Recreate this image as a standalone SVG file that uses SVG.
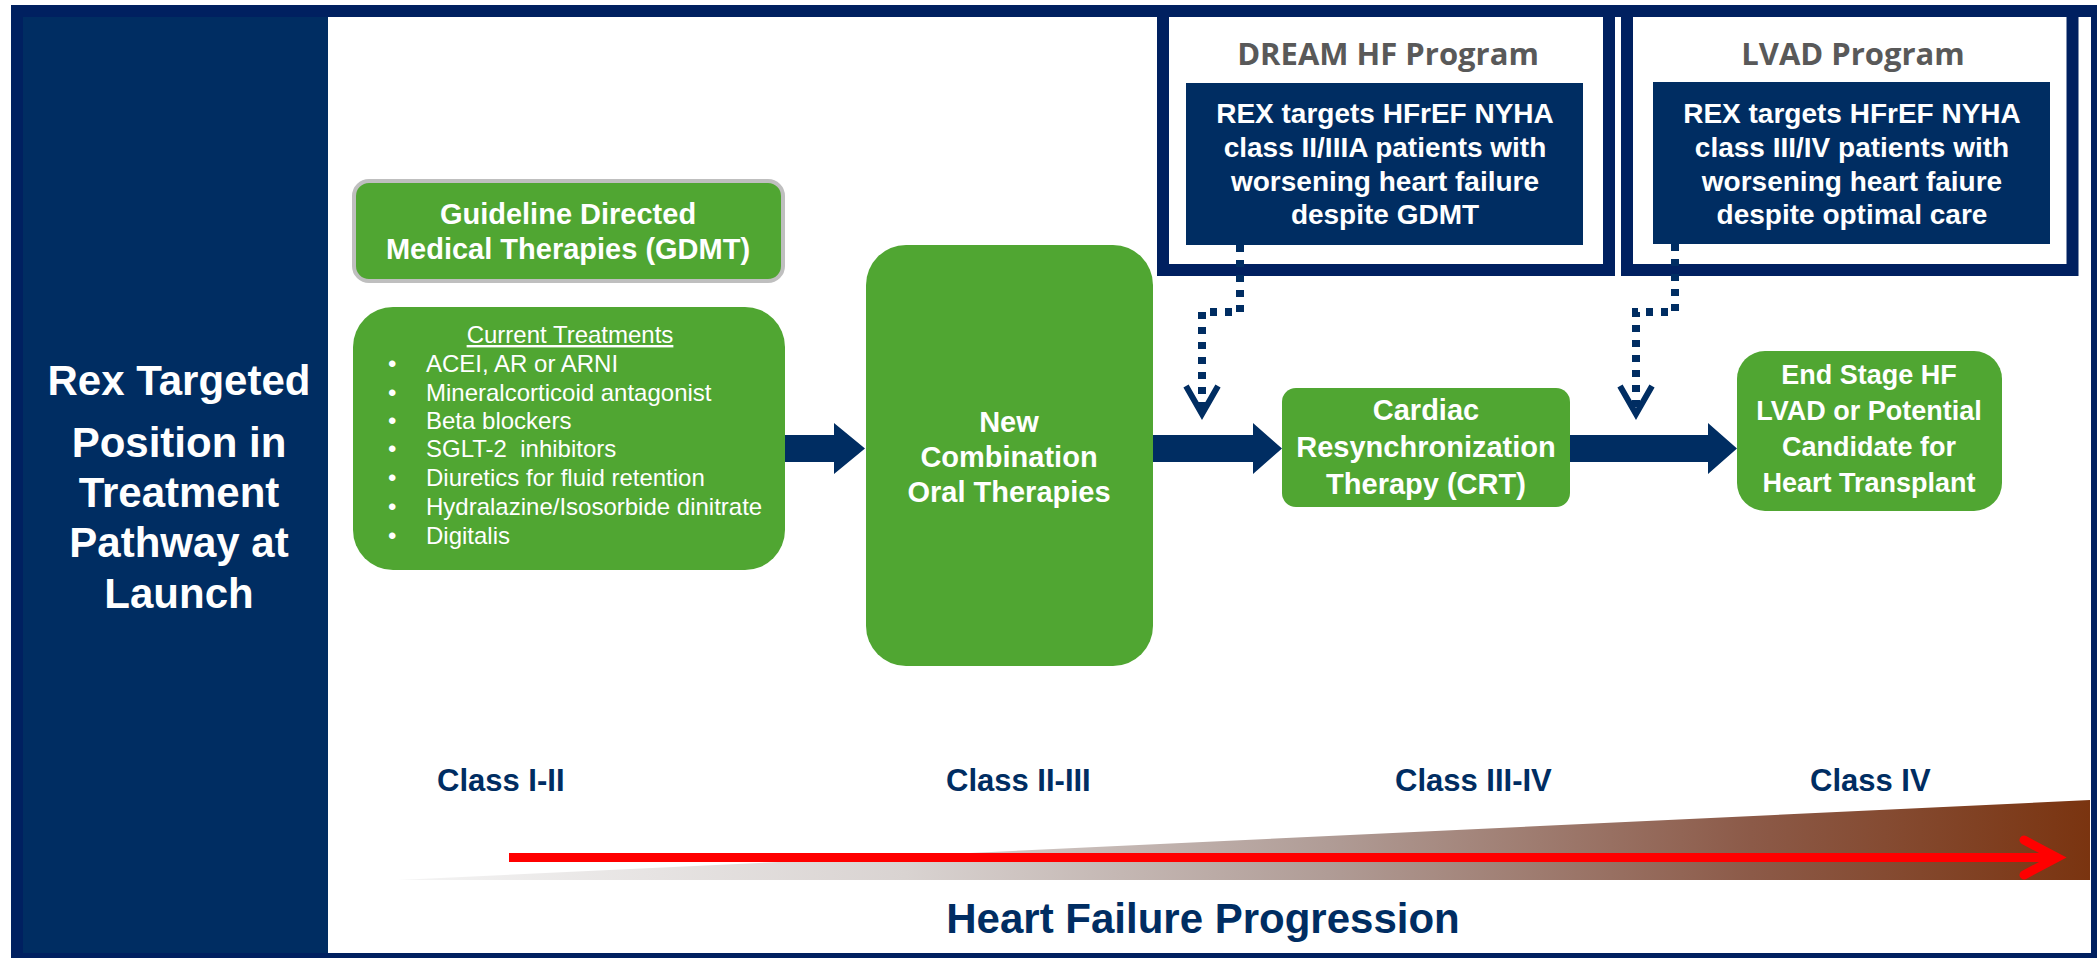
<svg xmlns="http://www.w3.org/2000/svg" width="2097" height="958" viewBox="0 0 2097 958">
<defs>
<style>
.g{fill:#50A632}
.w{fill:#FFFFFF;font-family:"Liberation Sans",Arial,sans-serif;font-weight:700;text-anchor:middle}
.wr{fill:#FFFFFF;font-family:"Liberation Sans",Arial,sans-serif;font-size:24px}
.nv{fill:#002D62;font-family:"Liberation Sans",Arial,sans-serif;font-weight:700}
.ttl{fill:#595959;font-family:"Open Sans","Liberation Sans",sans-serif;font-weight:700;font-size:31px;text-anchor:middle}
.frame{fill:none;stroke:#002060;stroke-width:12}
.blk{fill:#002D62}
.dot{fill:none;stroke:#002D62;stroke-width:8;stroke-dasharray:7 8}
.head{fill:none;stroke:#002D62;stroke-width:6;stroke-linejoin:miter}
</style>
<linearGradient id="wedge" x1="398" y1="0" x2="2090" y2="0" gradientUnits="userSpaceOnUse">
<stop offset="0" stop-color="#F4F4F4"/>
<stop offset="0.3" stop-color="#D9D3D1"/>
<stop offset="0.55" stop-color="#B09C96"/>
<stop offset="0.8" stop-color="#8C5A48"/>
<stop offset="1" stop-color="#7A3410"/>
</linearGradient>
</defs>
<rect x="0" y="0" width="2097" height="958" fill="#FFFFFF"/>
<rect x="11" y="5" width="2086" height="953" fill="#002060"/>
<rect x="328" y="17" width="1763" height="936" fill="#FFFFFF"/>
<rect x="23" y="17" width="305" height="936" fill="#002D62"/>

<g id="left-title">
<text class="w" font-size="42" x="179" y="395">Rex Targeted</text>
<text class="w" font-size="42" x="179" y="457">Position in</text>
<text class="w" font-size="42" x="179" y="507">Treatment</text>
<text class="w" font-size="42" x="179" y="557">Pathway at</text>
<text class="w" font-size="42" x="179" y="608">Launch</text>
</g>

<g id="progression">
<polygon points="398,880 2090,800 2090,880" fill="url(#wedge)"/>
<line x1="509" y1="857.5" x2="2052" y2="857.5" stroke="#FF0000" stroke-width="9"/>
<polyline points="2024,840 2057,857.5 2024,875" fill="none" stroke="#FF0000" stroke-width="9" stroke-linecap="round"/>
<text class="nv" font-size="31" x="437" y="791">Class I-II</text>
<text class="nv" font-size="31" x="946" y="791">Class II-III</text>
<text class="nv" font-size="31" x="1395" y="791">Class III-IV</text>
<text class="nv" font-size="31" x="1810" y="791">Class IV</text>
<text class="nv" font-size="42" x="1203" y="933" text-anchor="middle">Heart Failure Progression</text>
</g>

<g id="dream-program">
<rect class="frame" x="1163" y="11" width="446" height="259"/>
<text class="ttl" x="1388" y="65">DREAM HF Program</text>
<rect class="blk" x="1186" y="83" width="397" height="162"/>
<text class="w" font-size="28" x="1385" y="123">REX targets HFrEF NYHA</text>
<text class="w" font-size="28" x="1385" y="157">class II/IIIA patients with</text>
<text class="w" font-size="28" x="1385" y="190.5">worsening heart failure</text>
<text class="w" font-size="28" x="1385" y="224">despite GDMT</text>
</g>

<g id="lvad-program">
<rect class="frame" x="1627" y="11" width="445.5" height="259"/>
<text class="ttl" x="1853" y="65">LVAD Program</text>
<rect class="blk" x="1653" y="82" width="397" height="162"/>
<text class="w" font-size="28" x="1852" y="123">REX targets HFrEF NYHA</text>
<text class="w" font-size="28" x="1852" y="157">class III/IV patients with</text>
<text class="w" font-size="28" x="1852" y="190.5">worsening heart faiure</text>
<text class="w" font-size="28" x="1852" y="224">despite optimal care</text>
</g>

<g id="gdmt">
<rect class="g" x="354" y="181" width="429" height="100" rx="15" stroke="#BFBFBF" stroke-width="4"/>
<text class="w" font-size="29" x="568" y="224">Guideline Directed</text>
<text class="w" font-size="29" x="568" y="259">Medical Therapies (GDMT)</text>
</g>

<g id="current-treatments">
<rect class="g" x="353" y="307" width="432" height="263" rx="40"/>
<text class="wr" x="570" y="343" text-anchor="middle" text-decoration="underline">Current Treatments</text>
<g class="wr">
<text x="388" y="372">•</text><text x="426" y="372">ACEI, AR or ARNI</text>
<text x="388" y="401">•</text><text x="426" y="401">Mineralcorticoid antagonist</text>
<text x="388" y="429">•</text><text x="426" y="429">Beta blockers</text>
<text x="388" y="457">•</text><text x="426" y="457">SGLT-2&#160; inhibitors</text>
<text x="388" y="486">•</text><text x="426" y="486">Diuretics for fluid retention</text>
<text x="388" y="515">•</text><text x="426" y="515">Hydralazine/Isosorbide dinitrate</text>
<text x="388" y="544">•</text><text x="426" y="544">Digitalis</text>
</g>
</g>

<g id="new-combination">
<rect class="g" x="866" y="245" width="287" height="421" rx="40"/>
<text class="w" font-size="29" x="1009" y="432">New</text>
<text class="w" font-size="29" x="1009" y="467">Combination</text>
<text class="w" font-size="29" x="1009" y="502">Oral Therapies</text>
</g>

<g id="crt">
<rect class="g" x="1282" y="388" width="288" height="119" rx="14"/>
<text class="w" font-size="29" x="1426" y="420">Cardiac</text>
<text class="w" font-size="29" x="1426" y="457">Resynchronization</text>
<text class="w" font-size="29" x="1426" y="494">Therapy (CRT)</text>
</g>

<g id="end-stage">
<rect class="g" x="1737" y="351" width="265" height="160" rx="28"/>
<text class="w" font-size="27" x="1869" y="384">End Stage HF</text>
<text class="w" font-size="27" x="1869" y="420">LVAD or Potential</text>
<text class="w" font-size="27" x="1869" y="456">Candidate for</text>
<text class="w" font-size="27" x="1869" y="492">Heart Transplant</text>
</g>

<g id="connectors">
<polygon class="blk" points="785,435 834,435 834,423 865,448.5 834,474 834,462 785,462"/>
<polygon class="blk" points="1153,435 1253,435 1253,423 1282,448.5 1253,474 1253,462 1153,462"/>
<polygon class="blk" points="1570,435 1708,435 1708,423 1737,448.5 1708,474 1708,462 1570,462"/>
<path class="dot" d="M1240 245 V312 H1202 V410"/>
<polyline class="head" points="1186,386 1202,414 1218,386"/>
<path class="dot" d="M1675 244 V312 H1636 V410"/>
<polyline class="head" points="1620,386 1636,414 1652,386"/>
</g>
</svg>
